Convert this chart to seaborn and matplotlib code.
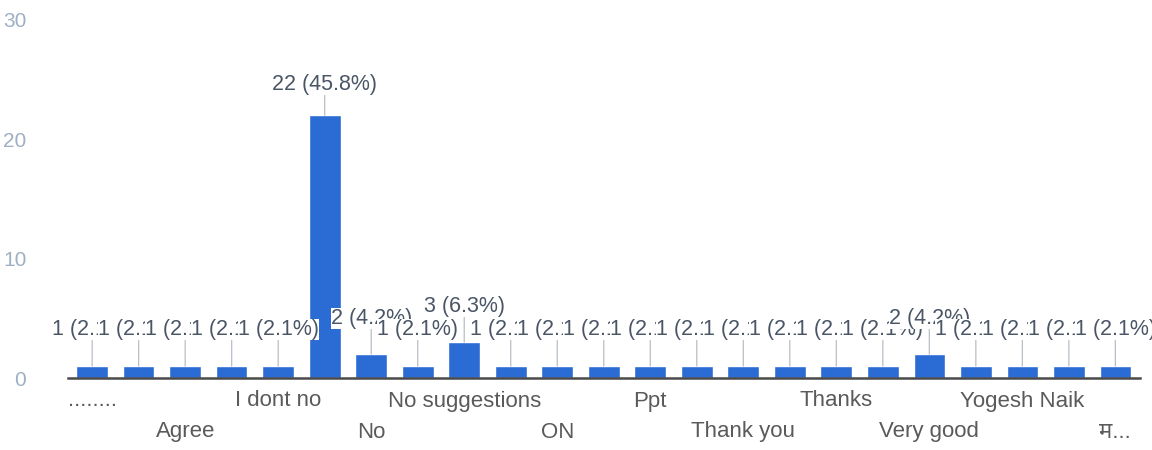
import matplotlib
matplotlib.use("Agg")
import matplotlib.pyplot as plt
import matplotlib.transforms as mtransforms
import seaborn as sns
import pandas as pd
from decimal import Decimal, ROUND_HALF_UP

categories = ["........", "Absolutely", "Agree", "Good", "I dont no", "Nil", "No",
              "No comments", "No suggestions", "Nothing", "ON", "Ok", "Ppt", "Sir",
              "Thank you", "Thank you sir", "Thanks", "Useful", "Very good", "Well",
              "Yogesh Naik", "Yup", "म..."]
counts = [1, 1, 1, 1, 1, 22, 2, 1, 3, 1, 1, 1, 1, 1, 1, 1, 1, 1, 2, 1, 1, 1, 1]
y_ticks = [0, 10, 20, 30]

total = sum(counts)
df = pd.DataFrame({"answer": categories, "count": counts})

sns.set_style("white")
plt.rcParams["font.family"] = ["Liberation Sans", "Noto Sans", "DejaVu Sans"]

fig = plt.figure(figsize=(11.52, 4.5), dpi=100)
ax = fig.add_axes([0.059, 0.16, 0.931, 0.796])

bar_color = "#2b6cd4"
sns.barplot(data=df, x="answer", y="count", color=bar_color, width=0.68,
            saturation=1, ax=ax, order=categories)

ax.set_ylim(0, 30)
ax.set_xlim(-0.52, len(categories) - 1 + 0.54)
ax.set_yticks(y_ticks)
ax.set_yticklabels([str(t) for t in y_ticks], color="#9fb0c2", fontsize=15)
ax.tick_params(axis="y", length=0, pad=30)
ax.tick_params(axis="x", length=0, pad=9)

for s in ["top", "right", "left"]:
    ax.spines[s].set_visible(False)
ax.spines["bottom"].set_color("#4a4a4a")
ax.spines["bottom"].set_linewidth(1.8)

ax.set_xlabel("")
ax.set_ylabel("")

# x tick labels: every second category, alternating on two rows
ax.set_xticks(range(len(categories)))
ax.set_xticklabels([c if i % 2 == 0 else "" for i, c in enumerate(categories)],
                   fontsize=16, color="#5a5a5a")
shift = mtransforms.ScaledTranslation(0, -31 / 100, fig.dpi_scale_trans)
for i, lab in enumerate(ax.get_xticklabels()):
    if i % 4 == 2:
        lab.set_transform(lab.get_transform() + shift)


def pct(v):
    d = Decimal(v * 100) / Decimal(total)
    return d.quantize(Decimal("0.1"), rounding=ROUND_HALF_UP)


# data labels with leader lines
for i, v in enumerate(counts):
    txt = f"{v} ({pct(v)}%)"
    off = 26 if v < 10 else 22
    ax.annotate(txt, xy=(i, v), xytext=(0, off), textcoords="offset points",
                ha="center", va="center", fontsize=15.5, color="#4a5566",
                bbox=dict(boxstyle="square,pad=0.0", fc="white", ec="none"),
                arrowprops=dict(arrowstyle="-", color="#b8bec6", lw=0.9,
                                shrinkA=0, shrinkB=0))

fig.savefig("out.png", dpi=100, facecolor="white")
